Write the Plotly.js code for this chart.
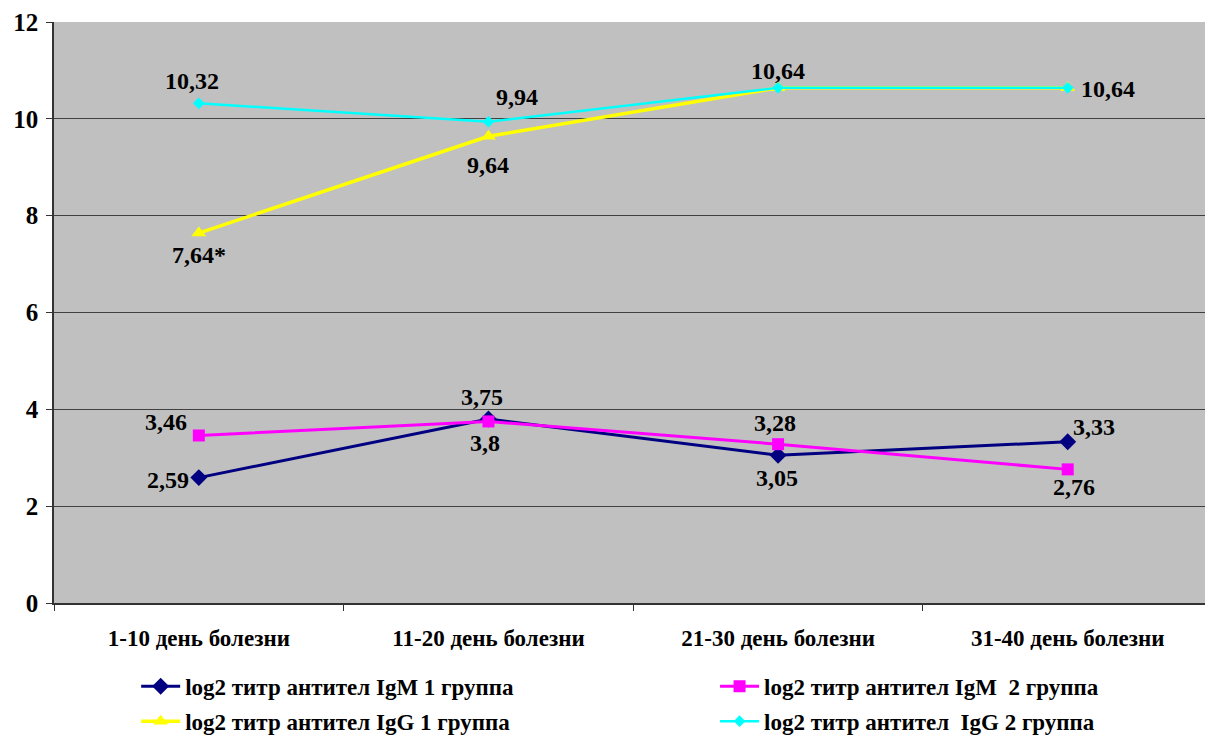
<!DOCTYPE html>
<html><head><meta charset="utf-8">
<script src="https://cdn.plot.ly/plotly-3.0.1.min.js"></script>
<style>body{margin:0;background:#fff}#chart{width:1205px;height:742px}</style>
</head><body><div id="chart"></div>
<script>
const categories = ["1-10 день болезни", "11-20 день болезни", "21-30 день болезни", "31-40 день болезни"];
const igm1 = [2.59, 3.8, 3.05, 3.33];
const igm2 = [3.46, 3.75, 3.28, 2.76];
const igg1 = [7.64, 9.64, 10.64, 10.64];
const igg2 = [10.32, 9.94, 10.64, 10.64];
const labelsIgm1 = ["2,59", "3,8", "3,05", "3,33"];
const labelsIgm2 = ["3,46", "3,75", "3,28", "2,76"];
const labelsIgg1 = ["7,64*", "9,64", "", "10,64"];
const labelsIgg2 = ["10,32", "9,94", "10,64", ""];
const names = ["log2 титр антител IgM 1 группа", "log2 титр антител IgM  2 группа",
               "log2 титр антител IgG 1 группа", "log2 титр антител  IgG 2 группа"];
const yTicks = [0, 2, 4, 6, 8, 10, 12];

const FONT = "Liberation Serif, Times New Roman, serif";
const B = s => "<b>" + s.replace(/  /g, " &nbsp;") + "</b>";
const traces = [
  {x: categories, y: igm1, name: B(names[0]), mode: "lines+markers", legend: "legend", legendgroup: "a",
   line: {color: "#000080", width: 3}, marker: {symbol: "diamond", size: 13, color: "#000080"}},
  {x: categories, y: igm2, name: B(names[1]), mode: "lines+markers", legend: "legend2", legendgroup: "b",
   line: {color: "#FF00FF", width: 3}, marker: {symbol: "square", size: 12, color: "#FF00FF"}},
  {x: categories, y: igg1, name: B(names[2]), mode: "lines+markers", legend: "legend", legendgroup: "c",
   line: {color: "#FFFF00", width: 3.5}, marker: {symbol: "triangle-up", size: 13, color: "#FFFF00"}},
  {x: categories, y: igg2, name: B(names[3]), mode: "lines+markers", legend: "legend2", legendgroup: "d",
   line: {color: "#00FFFF", width: 2.5}, marker: {symbol: "diamond", size: 9, color: "#00FFFF"}}
];

const shifts = {
  igm1: [[-31, -2], [-3, -24], [-1.5, -23], [26, 15]],
  igm2: [[-32.5, 13.5], [-6, 24], [-3, 21], [6, -18]],
  igg1: [[0, -22], [0, -29], [0, 0], [40.5, -1]],
  igg2: [[-6.5, 22], [29, 25], [0, 17], [0, 0]]
};
const annotations = [];
function addLabels(vals, labels, sh) {
  vals.forEach((v, i) => {
    if (!labels[i]) return;
    annotations.push({x: categories[i], y: v, xref: "x", yref: "y", text: B(labels[i]),
      showarrow: false, xshift: sh[i][0], yshift: sh[i][1],
      font: {family: FONT, size: 24, color: "#000", weight: 700}});
  });
}
addLabels(igm1, labelsIgm1, shifts.igm1);
addLabels(igm2, labelsIgm2, shifts.igm2);
addLabels(igg1, labelsIgg1, shifts.igg1);
addLabels(igg2, labelsIgg2, shifts.igg2);

const legendBase = {orientation: "v", xref: "container", yref: "container", y: 0.104,
  xanchor: "left", yanchor: "top", itemwidth: 39, tracegroupgap: 2, bgcolor: "rgba(0,0,0,0)",
  font: {family: FONT, size: 23, color: "#000", weight: 700}};

const layout = {
  width: 1205, height: 742,
  margin: {l: 54, r: 0, t: 22, b: 139, autoexpand: false},
  paper_bgcolor: "#fff", plot_bgcolor: "#C0C0C0",
  font: {family: FONT, color: "#000", weight: 700},
  showlegend: true,
  xaxis: {type: "category", range: [-0.5, 3.474], showgrid: false, automargin: false,
    showline: true, linecolor: "#333", linewidth: 1.5,
    ticks: "outside", tickson: "boundaries", ticklen: 6, tickcolor: "#333", tickangle: 0,
    ticklabelstandoff: 14, tickvals: categories, ticktext: categories.map(B),
    tickfont: {family: FONT, size: 23, color: "#000", weight: 700}},
  yaxis: {range: [0, 12], tickvals: yTicks, ticktext: yTicks.map(v => B(String(v))), automargin: false,
    showgrid: true, gridcolor: "#404040", gridwidth: 1.3, zeroline: false,
    showline: true, linecolor: "#333", linewidth: 1.5,
    ticks: "outside", ticklen: 6, tickcolor: "#333", ticklabelstandoff: 3,
    tickfont: {family: FONT, size: 25, color: "#000", weight: 700}},
  legend: Object.assign({}, legendBase, {x: 0.113}),
  legend2: Object.assign({}, legendBase, {x: 0.5934}),
  annotations: annotations
};
Plotly.newPlot("chart", traces, layout, {displayModeBar: false});
</script></body></html>
